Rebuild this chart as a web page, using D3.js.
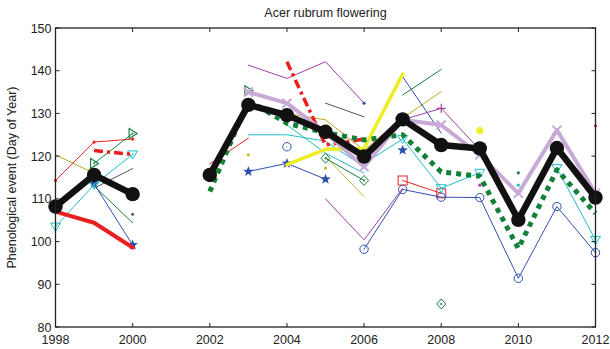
<!DOCTYPE html>
<html><head><meta charset="utf-8">
<script src="https://cdn.jsdelivr.net/npm/d3@7"></script>
<style>body{margin:0;background:#fff}svg{display:block}text{font-family:"Liberation Sans",Arial,sans-serif;fill:#222}</style>
</head><body><svg id="c" width="610" height="349"></svg>
<script>
const years = [1998,1999,2000,2001,2002,2003,2004,2005,2006,2007,2008,2009,2010,2011,2012];
const xTicks = [1998,2000,2002,2004,2006,2008,2010,2012];
const yTicks = [80,90,100,110,120,130,140,150];
const N = null;
// series values, one per year
const magentaTop   = [N,N,N,N,N,141.3,138.2,142.1,132.4,N,N,N,N,N,N];
const blueDot      = [N,N,N,N,N,N,N,N,132.4,N,N,N,N,N,N];
const greyLine     = [N,112.5,117.1,N,N,N,N,132.4,129.2,N,N,N,N,N,N];
const oliveLine    = [120.3,116.0,N,N,N,131.2,130.0,128.5,121.4,128.9,135.1,N,N,N,N];
const oliveLine2   = [N,N,N,N,N,N,N,119.9,110.5,N,N,N,N,N,N];
const oliveDots    = [N,N,N,N,N,120.3,N,117.2,N,N,N,N,N,N,N];
const greenThin    = [N,113.0,104.4,N,N,N,N,N,N,134.3,140.3,N,116.1,N,N];
const blueThin     = [N,N,N,N,N,N,N,N,N,138.6,125.4,N,N,N,N];
const darkDot      = [N,N,106.4,N,N,N,N,N,N,N,N,N,N,N,N];
const cyan2        = [N,N,N,N,N,N,127.3,120.7,116.0,N,N,N,113.2,N,N];
const cyan3        = [N,N,N,N,N,125.0,125.0,123.5,117.5,N,N,N,N,N,N];
const magentaLow   = [N,N,N,N,N,N,N,110.0,100.4,112.5,N,113.2,N,N,N];
const magentaPlus  = [N,N,N,N,N,N,N,N,121.0,128.5,131.2,121.5,N,N,N];
const redDots      = [114.3,123.3,124.0,N,N,N,N,N,N,N,N,N,N,N,127.1];
const redThin      = [N,N,N,N,118.2,124.2,N,N,N,N,N,N,N,N,N];
const redSquares   = [N,N,N,N,N,N,N,N,N,114.3,111.3,N,N,N,N];
const greenTri     = [N,118.3,125.3,N,N,135.3,N,N,N,N,N,N,N,N,N];
const greenDiamond = [N,N,N,N,N,N,N,119.5,114.3,N,85.4,N,N,N,N];
const blueStar     = [N,113.5,99.2,N,N,116.4,118.3,114.6,N,121.4,N,N,N,N,N];
const blueCircle   = [N,N,N,N,N,N,122.2,N,98.2,112.2,110.4,110.3,91.4,108.2,97.4];
const cyanTri      = [103.5,113.3,120.4,N,N,N,N,N,118.3,124.0,112.5,116.1,N,117.2,100.4];
const redThick     = [107.0,104.4,98.6,N,N,N,N,N,N,N,N,N,N,N,N];
const redDashDot   = [N,121.3,120.4,N,N,N,142.1,122.6,124.0,N,N,N,N,N,N];
const yellowThick  = [N,N,N,N,N,N,118.0,121.6,121.8,139.2,N,126.0,N,N,N];
const lightPurple  = [N,N,N,N,N,135.0,132.4,125.5,117.5,128.5,127.3,120.3,111.3,126.1,111.3];
const greenDotted  = [N,N,N,N,111.7,133.0,127.7,125.5,123.8,125.0,116.3,115.3,98.4,116.8,106.6];
const meanLine     = [108.2,115.6,111.1,N,115.6,132.0,129.6,125.7,119.9,128.6,122.6,121.8,105.1,121.9,110.3];

// styles (drawn in this order)
const series = [
  {v:magentaTop,  c:"#a040a8", w:1, m:null},
  {v:blueDot,     c:"#3a50b0", w:0, m:"."},
  {v:greyLine,    c:"#555555", w:1, m:null},
  {v:oliveLine,   c:"#c0a820", w:1, m:null},
  {v:oliveLine2,  c:"#c0b830", w:1, m:null},
  {v:oliveDots,   c:"#c8b820", w:0, m:"."},
  {v:greenThin,   c:"#1a8040", w:1, m:null},
  {v:blueThin,    c:"#3050b0", w:1, m:null},
  {v:darkDot,     c:"#556655", w:0, m:"."},
  {v:cyan2,       c:"#20c0c8", w:1, m:null},
  {v:cyan3,       c:"#20c0c8", w:1, m:null},
  {v:magentaLow,  c:"#a040a8", w:1, m:null},
  {v:magentaPlus, c:"#a040a8", w:1, m:"+"},
  {v:redDots,     c:"#ee2222", w:1, m:"."},
  {v:redThin,     c:"#ee2222", w:1, m:null},
  {v:redSquares,  c:"#ee2222", w:1, m:"s"},
  {v:greenTri,    c:"#1a8040", w:1, m:">"},
  {v:greenDiamond,c:"#1a8040", w:1, m:"d"},
  {v:blueStar,    c:"#2f4fb0", w:1, m:"*"},
  {v:blueCircle,  c:"#3050b0", w:1, m:"o"},
  {v:cyanTri,     c:"#20c0c8", w:1, m:"v"},
  {v:redThick,    c:"#e82020", w:4, m:null},
  {v:redDashDot,  c:"#ee1c1c", w:3.5, m:null, dash:"9,4,3,4"},
  {v:yellowThick, c:"#eeee22", w:3.5, m:null, iso:3.5},
  {v:lightPurple, c:"#c8aad6", w:4, m:"x"},
  {v:greenDotted, c:"#138038", w:5, m:null, dash:"5,5"},
  {v:meanLine,    c:"#111111", w:6.5, m:"O"}
];

const svg = d3.select("#c");
const L=55.5, R=595.5, T=28, B=327;
const x = d3.scaleLinear().domain([1998,2012]).range([L,R]);
const y = d3.scaleLinear().domain([80,150]).range([B,T]);

// title & labels
svg.append("text").attr("x",(L+R)/2).attr("y",17).attr("text-anchor","middle").attr("font-size",12.5).text("Acer rubrum flowering");
svg.append("text").attr("transform",`translate(16,${(T+B)/2}) rotate(-90)`).attr("text-anchor","middle").attr("font-size",12.5).text("Phenological event (Day of Year)");

const g = svg.append("g");
const line = d3.line().defined(d=>d.v!=null).x(d=>x(d.yr)).y(d=>y(d.v));
function starPath(r){const p=[];for(let i=0;i<10;i++){const a=-Math.PI/2+i*Math.PI/5;const rr=i%2?r*0.42:r;p.push([rr*Math.cos(a),rr*Math.sin(a)]);}return "M"+p.map(q=>q.join(",")).join("L")+"Z";}
function drawMarker(sel,m,c,px,py){
  const s=sel.append("g").attr("transform",`translate(${px},${py})`);
  if(m==="o") s.append("circle").attr("r",4.2).attr("fill","none").attr("stroke",c).attr("stroke-width",1);
  else if(m==="O") s.append("circle").attr("r",7.2).attr("fill",c);
  else if(m===".") s.append("circle").attr("r",1.6).attr("fill",c);
  else if(m==="s") s.append("rect").attr("x",-4.5).attr("y",-4.5).attr("width",9).attr("height",9).attr("fill","none").attr("stroke",c).attr("stroke-width",1);
  else if(m==="d"){ s.append("path").attr("d","M0,-5L4.5,0L0,5L-4.5,0Z").attr("fill","none").attr("stroke",c).attr("stroke-width",1); s.append("circle").attr("r",1).attr("fill",c);}
  else if(m==="v"){ s.append("path").attr("d","M-5,-3.5L5,-3.5L0,4.5Z").attr("fill","none").attr("stroke",c).attr("stroke-width",1); s.append("circle").attr("r",0.9).attr("fill",c);}
  else if(m===">"){ s.append("path").attr("d","M-3.5,-5L4.5,0L-3.5,5Z").attr("fill","none").attr("stroke",c).attr("stroke-width",1.2); s.append("circle").attr("r",0.9).attr("fill",c);}
  else if(m==="*") s.append("path").attr("d",starPath(5.5)).attr("fill",c);
  else if(m==="+") s.append("path").attr("d","M-4.5,0H4.5M0,-4.5V4.5").attr("stroke",c).attr("stroke-width",1.2);
  else if(m==="x") s.append("path").attr("d","M-4.5,-4.5L4.5,4.5M-4.5,4.5L4.5,-4.5").attr("stroke",c).attr("stroke-width",2);
}
series.forEach(s=>{
  const data = years.map((yr,i)=>({yr, v:s.v[i]}));
  if(s.w>0){
    g.append("path").datum(data).attr("d",line).attr("fill","none").attr("stroke",s.c)
     .attr("stroke-width",s.w).attr("stroke-dasharray",s.dash||null).attr("stroke-linejoin","round").attr("stroke-linecap", s.dash?"butt":"round");
  }
  data.forEach((d,i)=>{
    if(d.v==null) return;
    const prev = i>0 ? data[i-1].v : null, next = i<data.length-1 ? data[i+1].v : null;
    const isolated = prev==null && next==null;
    if(s.m){
      drawMarker(g, s.m, s.c, x(d.yr), y(d.v));
    } else if(isolated){
      g.append("circle").attr("cx",x(d.yr)).attr("cy",y(d.v)).attr("r",s.iso||1.6).attr("fill",s.c);
    }
  });
});

// frame
svg.append("rect").attr("x",L).attr("y",T).attr("width",R-L).attr("height",B-T).attr("fill","none").attr("stroke","#222").attr("stroke-width",1.3);
const tl=4;
xTicks.forEach(t=>{
  svg.append("line").attr("x1",x(t)).attr("x2",x(t)).attr("y1",B).attr("y2",B-tl).attr("stroke","#222");
  svg.append("line").attr("x1",x(t)).attr("x2",x(t)).attr("y1",T).attr("y2",T+tl).attr("stroke","#222");
  svg.append("text").attr("x",x(t)).attr("y",344).attr("text-anchor","middle").attr("font-size",12.5).text(t);
});
yTicks.forEach(t=>{
  svg.append("line").attr("x1",L).attr("x2",L+tl).attr("y1",y(t)).attr("y2",y(t)).attr("stroke","#222");
  svg.append("line").attr("x1",R).attr("x2",R-tl).attr("y1",y(t)).attr("y2",y(t)).attr("stroke","#222");
  svg.append("text").attr("x",L-4).attr("y",y(t)+4.5).attr("text-anchor","end").attr("font-size",12.5).text(t);
});
</script></body></html>
